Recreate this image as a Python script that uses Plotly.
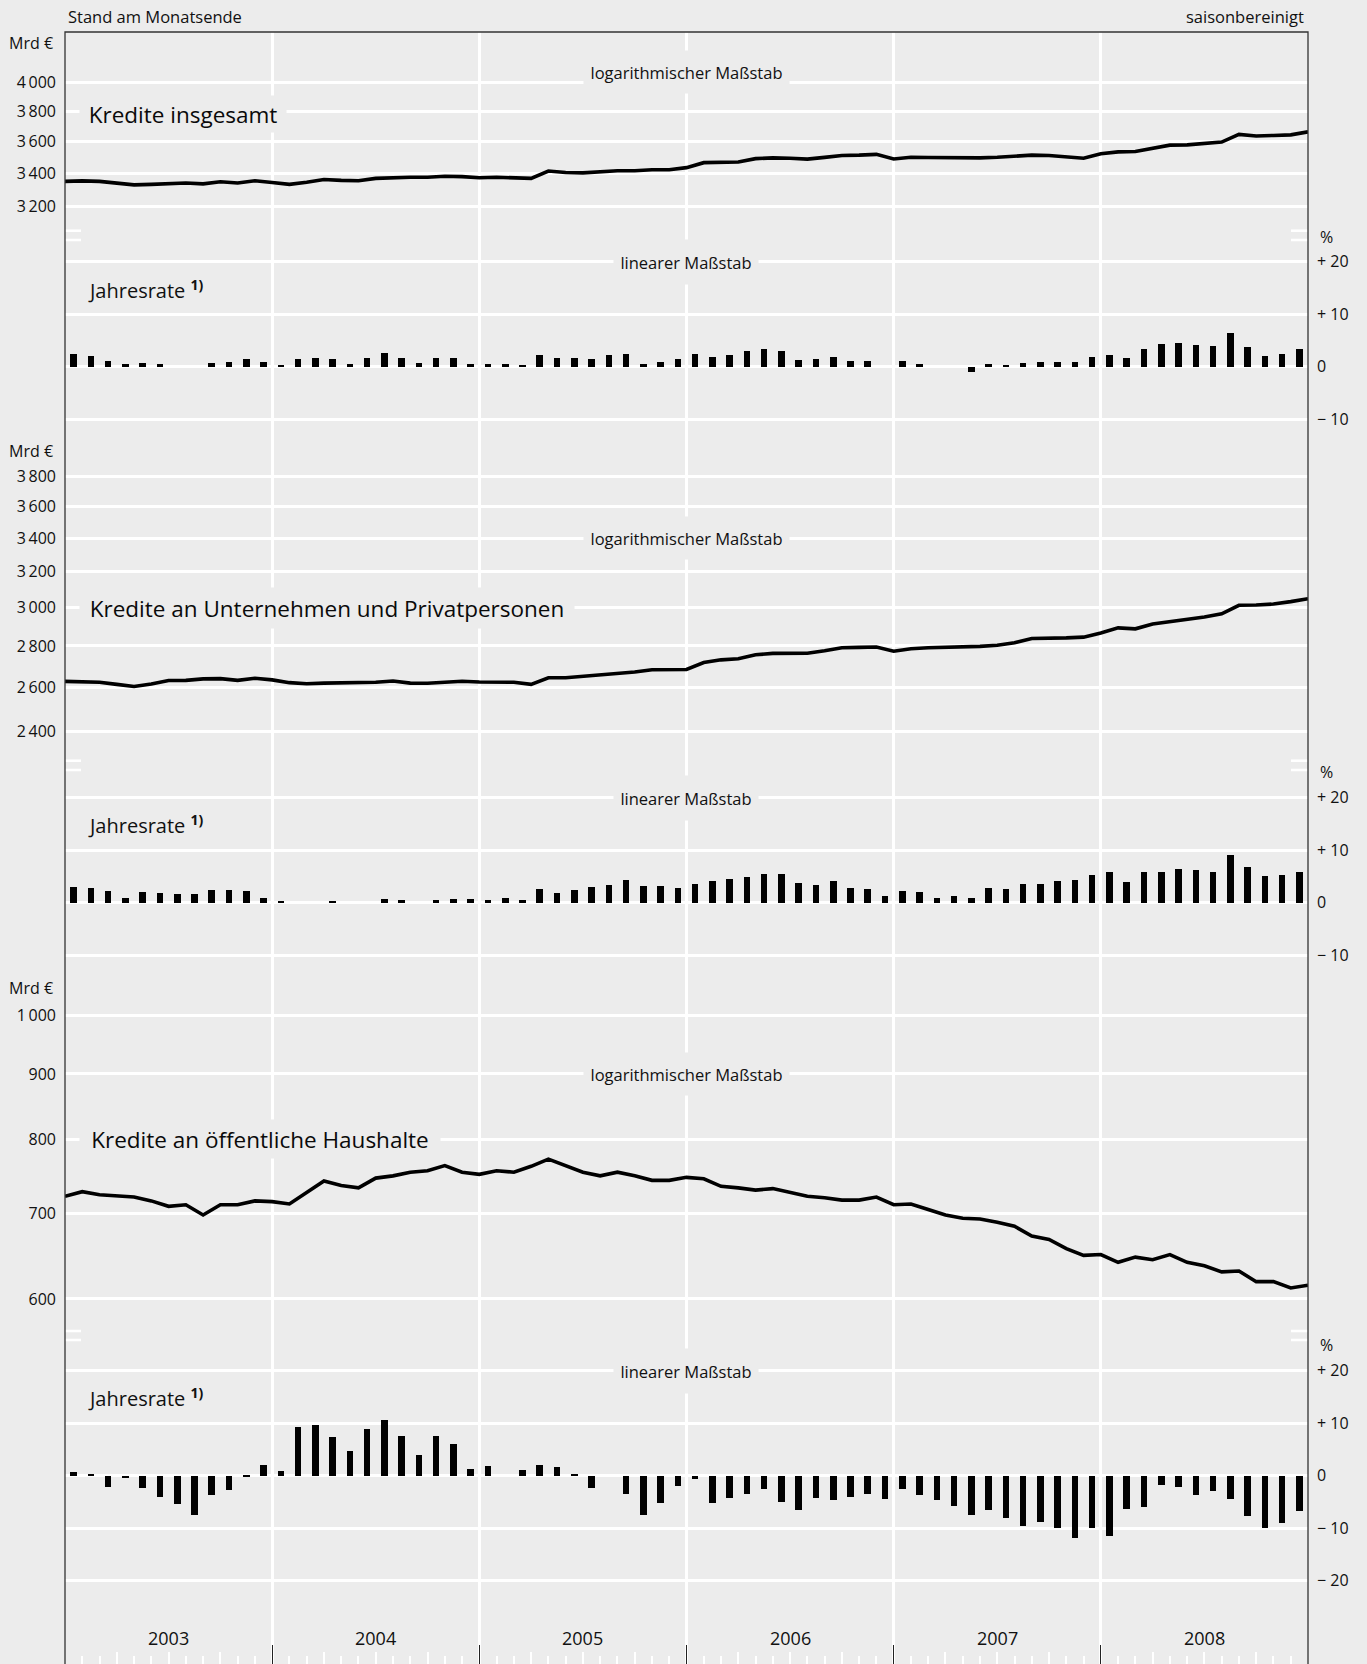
import math
import plotly.graph_objects as go

# ---------------- data ----------------
years = ["2003", "2004", "2005", "2006", "2007", "2008"]
n_months = 72

# month-end levels (Dec 2002 ... Dec 2008), Mrd Euro
kredite_insgesamt = [3349, 3352, 3349, 3340, 3328, 3331, 3336, 3339, 3334, 3347, 3339, 3353,
                     3342, 3331, 3344, 3360, 3355, 3353, 3367, 3373, 3374, 3374, 3380, 3378,
                     3371, 3374, 3371, 3367, 3412, 3403, 3401, 3408, 3414, 3414, 3420, 3420,
                     3433, 3464, 3465, 3468, 3489, 3494, 3492, 3486, 3497, 3509, 3511, 3516,
                     3487, 3498, 3496, 3494, 3494, 3494, 3498, 3505, 3511, 3509, 3498, 3492,
                     3520, 3532, 3534, 3556, 3575, 3577, 3588, 3595, 3645, 3634, 3638, 3642,
                     3662]
rate_insgesamt = [2.45, 2.1, 1.2, 0.65, 0.8, 0.5, 0, 0, 0.8, 1.0, 1.5, 0.9,
                  0.2, 1.6, 1.7, 1.5, 0.5, 1.7, 2.7, 1.7, 0.8, 1.8, 1.8, 0.65,
                  0.5, 0.5, 0.3, 2.2, 1.7, 1.7, 1.5, 2.3, 2.45, 0.5, 0.9, 1.5,
                  2.45, 1.9, 2.3, 3.0, 3.5, 3.0, 1.4, 1.6, 2.0, 1.1, 1.15, 0,
                  1.1, 0.5, 0, 0, -0.9, 0.6, 0.3, 0.8, 0.9, 1.0, 0.9, 2.0,
                  2.2, 1.8, 3.5, 4.4, 4.6, 4.2, 4.0, 6.4, 3.9, 2.1, 2.5, 3.4]

kredite_unternehmen = [2627, 2623, 2623, 2613, 2603, 2615, 2631, 2632, 2639, 2640, 2632, 2642,
                       2634, 2621, 2616, 2619, 2619, 2619, 2623, 2629, 2619, 2618, 2621, 2628,
                       2624, 2623, 2623, 2613, 2644, 2644, 2650, 2659, 2665, 2672, 2683, 2683,
                       2684, 2718, 2731, 2736, 2756, 2763, 2764, 2764, 2776, 2791, 2793, 2795,
                       2774, 2786, 2791, 2793, 2795, 2798, 2804, 2816, 2838, 2838, 2841, 2845,
                       2866, 2893, 2888, 2913, 2925, 2935, 2950, 2967, 3013, 3015, 3020, 3033,
                       3049]
rate_unternehmen = [3.1, 2.85, 2.2, 1.0, 2.1, 2.0, 1.65, 1.8, 2.4, 2.4, 2.3, 0.9,
                    0.25, 0, 0, 0.25, 0, 0, 0.75, 0.55, 0, 0.55, 0.75, 0.75,
                    0.5, 1.0, 0.5, 2.6, 1.85, 2.5, 3.0, 3.5, 4.4, 3.2, 3.2, 2.8,
                    3.6, 4.2, 4.5, 5.0, 5.6, 5.6, 3.9, 3.5, 4.2, 2.85, 2.7, 1.3,
                    2.3, 2.1, 0.95, 1.3, 0.95, 2.85, 2.7, 3.7, 3.7, 4.1, 4.4, 5.3,
                    5.9, 4.0, 6.0, 6.0, 6.5, 6.2, 5.9, 9.1, 6.8, 5.2, 5.3, 5.9]

kredite_oeffentlich = [722, 728, 724, 723, 721, 716, 709, 711, 698, 711, 711, 716,
                       715, 712, 727, 742, 736, 733, 746, 749, 754, 756, 763, 754,
                       751, 756, 754, 762, 772, 763, 754, 749, 754, 749, 743, 743,
                       747, 745, 735, 733, 730, 732, 727, 722, 720, 717, 717, 721,
                       711, 712, 705, 698, 694, 693, 689, 684, 672, 668, 657, 649,
                       650, 641, 647, 644, 650, 641, 637, 630, 631, 619, 619, 612,
                       615]
rate_oeffentlich = [0.8, 0.45, -2.1, -0.3, -2.3, -3.9, -5.3, -7.4, -3.6, -2.7, 0.3, 2.2,
                    0.9, 9.3, 9.8, 7.5, 4.8, 8.9, 10.7, 7.7, 4.0, 7.7, 6.2, 1.4,
                    1.9, 0, 1.1, 2.2, 1.7, 0.5, -2.2, 0, -3.3, -7.4, -5.1, -1.8,
                    -0.5, -5.1, -4.2, -3.3, -2.5, -5.0, -6.4, -4.1, -4.6, -3.9, -3.3, -4.4,
                    -2.35, -3.5, -4.6, -5.7, -7.3, -6.5, -7.9, -9.4, -8.8, -9.9, -11.8, -9.8,
                    -11.4, -6.3, -5.9, -1.65, -2.0, -3.5, -2.9, -4.4, -7.6, -9.8, -9.0, -6.6]

ticks_log1 = [3200, 3400, 3600, 3800, 4000]
ticks_log2 = [2400, 2600, 2800, 3000, 3200, 3400, 3600, 3800]
ticks_log3 = [600, 700, 800, 900, 1000]
ticks_pct12 = [-10, 0, 10, 20]
ticks_pct3 = [-20, -10, 0, 10, 20]

titles = ["Kredite insgesamt", "Kredite an Unternehmen und Privatpersonen",
          "Kredite an öffentliche Haushalte"]

# ---------------- geometry ----------------
W, H = 1367, 1664
ML, MR, MT, MB = 65, 59, 32, 0
PW = W - ML - MR
PH = H - MT - MB
BG = "#ececec"
FONT = "Open Sans"
TXT = "#111111"


def px_x(x):
    return (x - ML) / PW


def px_y(y):
    return (H - MB - y) / PH


PPD = 1278.0   # pixels per decade on log panels
PPU = 5.25     # pixels per percentage point on rate panels


def log_rng(top, bot, ref_v, ref_px):
    r = math.log10(ref_v)
    return [r - (bot - ref_px) / PPD, r + (ref_px - top) / PPD]


def lin_rng(top, bot, zero_px):
    return [-(bot - zero_px) / PPU, (zero_px - top) / PPU]


bands = [(32, 235.5), (235.5, 448), (448, 765.5), (765.5, 980), (980, 1335.5), (1335.5, 1664)]


def dom(b):
    return [max(0.0, px_y(b[1])), min(1.0, px_y(b[0]))]


def fmt_mrd(v):
    s = str(v)
    return s[:-3] + "\u2009" + s[-3:] if v >= 1000 else s


def fmt_pct(v):
    if v == 0:
        return "0"
    return ("+ %d" % v) if v > 0 else ("\u2212 %d" % -v)


month_end = list(range(n_months + 1))
month_mid = [i + 0.5 for i in range(n_months)]

fig = go.Figure()
levels = [kredite_insgesamt, kredite_unternehmen, kredite_oeffentlich]
rates = [rate_insgesamt, rate_unternehmen, rate_oeffentlich]
for p in range(3):
    fig.add_trace(go.Scatter(x=month_end, y=levels[p], mode="lines",
                             line=dict(color="black", width=3.6),
                             xaxis="x", yaxis="y%d" % (2 * p + 1) if p else "y",
                             showlegend=False, hoverinfo="skip"))
    fig.add_trace(go.Bar(x=month_mid, y=rates[p], width=0.38,
                         marker=dict(color="black", line=dict(width=0)),
                         xaxis="x", yaxis="y%d" % (2 * p + 2),
                         showlegend=False, hoverinfo="skip"))
# helper trace for the quarter tick axis
fig.add_trace(go.Scatter(x=[month_end[0], month_end[-1]], y=[0, 0], mode="lines",
                         line=dict(width=0), opacity=0, xaxis="x2", yaxis="y6",
                         showlegend=False, hoverinfo="skip"))

tickfont = dict(family=FONT, size=16, color=TXT)
common_y = dict(showgrid=True, gridcolor="white", gridwidth=2.6, zeroline=False,
                ticks="", showline=False, tickfont=tickfont, anchor="x",
                ticklabelstandoff=8, fixedrange=True)

log_specs = [(ticks_log1, 4000, 82.8), (ticks_log2, 3000, 607.7), (ticks_log3, 800, 1139.3)]
zero_px = [366.5, 902.5, 1475.7]
pct_ticks = [ticks_pct12, ticks_pct12, ticks_pct3]

layout_axes = {}
for p in range(3):
    tv, ref_v, ref_px = log_specs[p]
    b = bands[2 * p]
    name = "yaxis" if p == 0 else "yaxis%d" % (2 * p + 1)
    layout_axes[name] = dict(common_y, type="log", domain=dom(b),
                             range=log_rng(b[0], b[1], ref_v, ref_px),
                             tickmode="array", tickvals=tv,
                             ticktext=[fmt_mrd(v) for v in tv], side="left")
    b2 = bands[2 * p + 1]
    layout_axes["yaxis%d" % (2 * p + 2)] = dict(common_y, type="linear", domain=dom(b2),
                                                range=lin_rng(b2[0], b2[1], zero_px[p]),
                                                tickmode="array", tickvals=pct_ticks[p],
                                                ticktext=[fmt_pct(v) for v in pct_ticks[p]],
                                                side="right")

year_bounds = [12 * i for i in range(1, len(years))]
quarters = [m for m in range(1, n_months) if m % 3 == 0 and m % 12 != 0]

fig.update_layout(
    width=W, height=H,
    margin=dict(l=ML, r=MR, t=MT, b=MB),
    paper_bgcolor=BG, plot_bgcolor=BG,
    bargap=0, showlegend=False,
    xaxis=dict(range=[0, n_months], anchor="y6", showgrid=True, gridcolor="white",
               gridwidth=2.8, zeroline=False, showline=False, tickmode="array",
               tickvals=year_bounds, ticks="inside", ticklen=19, tickcolor="#222",
               tickwidth=1.3, showticklabels=False, fixedrange=True,
               minor=dict(tickmode="array", tickvals=list(range(1, n_months)),
                          ticks="inside", ticklen=8, tickcolor="white", tickwidth=2,
                          showgrid=False)),
    xaxis2=dict(range=[0, n_months], overlaying="x", anchor="y6", showgrid=False,
                zeroline=False, showline=False, tickmode="array", tickvals=quarters,
                ticks="inside", ticklen=12, tickcolor="white", tickwidth=2,
                showticklabels=False, fixedrange=True),
    **layout_axes,
)

ann = []


def label(text, xpx, ypx, xanchor="left", size=16, box=None, color=TXT):
    d = dict(text=text, xref="paper", yref="paper", x=px_x(xpx), y=px_y(ypx),
             xanchor=xanchor, yanchor="middle", showarrow=False,
             font=dict(family=FONT, size=size, color=color))
    if box:
        d.update(bgcolor=BG, width=box[0], height=box[1], borderpad=0,
                 align="center", valign="middle")
    ann.append(d)


label("Stand am Monatsende", 66, 17, "left", 16.5)
label("saisonbereinigt", 1306, 17, "right", 16.5)

mrd_y = [42.5, 451, 988]
pct_y = [236.7, 771.6, 1344.7]
log_lab_y = [72, 538, 1074]
lin_lab_y = [262, 797.7, 1370.7]
jr_y = [289.7, 824.6, 1397.7]
title_boxes = [(183, 114, 206, 36), (327, 608, 494, 40), (260, 1139, 360, 38)]
for p in range(3):
    label("Mrd €", 55, mrd_y[p], "right", 16)
    label("%", 1318, pct_y[p], "left", 16)
    label("logarithmischer Maßstab", 686, log_lab_y[p], "center", 16.5, box=(205, 42))
    label("linearer Maßstab", 686, lin_lab_y[p], "center", 16.5, box=(144, 44))
    label("Jahresrate <sup><b>1)</b></sup>", 86, jr_y[p], "left", 20)
    cx, cy, bw, bh = title_boxes[p]
    label(titles[p], cx, cy, "center", 22.5, box=(bw, bh), color="#0a0a0a")

for i, yr in enumerate(years):
    ann.append(dict(text=yr, xref="x", yref="paper", x=12 * i + 6, y=px_y(1637.6),
                    xanchor="center", yanchor="middle", showarrow=False,
                    font=dict(family=FONT, size=18, color="#111")))

fig.update_layout(annotations=ann)

shapes = []
break_y = [(230.7, 240), (760.7, 770), (1331, 1340)]
for pair in break_y:
    for yy in pair:
        for x0, x1 in [(ML, ML + 16), (ML + PW - 17, ML + PW)]:
            shapes.append(dict(type="line", xref="paper", yref="paper",
                               x0=px_x(x0), x1=px_x(x1), y0=px_y(yy), y1=px_y(yy),
                               line=dict(color="white", width=2.6), layer="above"))
shapes.append(dict(type="rect", xref="paper", yref="paper", x0=0, x1=1, y0=-0.01, y1=1,
                   line=dict(color="#333", width=1.3), fillcolor="rgba(0,0,0,0)",
                   layer="above"))
fig.update_layout(shapes=shapes)

fig.write_html("out.html",
               config={"displayModeBar": False},
               post_script="document.body.style.margin='0';"
                           "document.body.style.background='%s';" % BG)
